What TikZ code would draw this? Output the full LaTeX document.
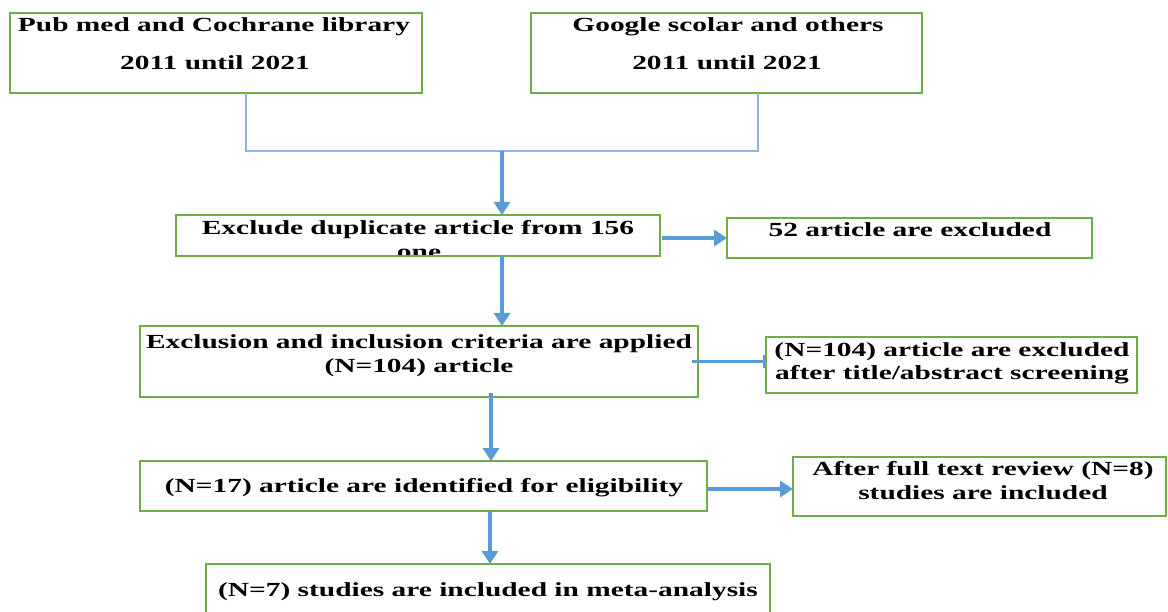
\documentclass[tikz,border=0pt]{standalone}
\usepackage{fontspec}
\setmainfont{Liberation Serif}[FakeStretch=1.47]
\usetikzlibrary{arrows.meta}
\definecolor{boxgreen}{HTML}{70AD47}
\definecolor{arrblue}{HTML}{5B9BD5}
\definecolor{linkblue}{HTML}{8EB4E3}
\begin{document}
\begin{tikzpicture}[x=1pt,y=-1pt,
 box/.style={draw=boxgreen, line width=2.3pt, rectangle, inner sep=0pt, outer sep=0pt},
 txt/.style={anchor=base, inner sep=0pt, font=\fontsize{20}{24}\selectfont\bfseries},
 arr/.style={draw=arrblue, line width=3.2pt, -{Triangle[length=13pt,width=16pt]}},
 barr/.style={draw=arrblue, line width=3.2pt, -{Bar[width=13pt,line width=2.6pt]}},
 link/.style={draw=linkblue, line width=1.4pt}]
\useasboundingbox (0,0) rectangle (1168,612);
\clip (0,0) rectangle (1168,612);

% texts
\node[txt] (pubt1) at (214,32) {Pub med and Cochrane library};
\node[txt] (pubt2) at (215,70) {2011 until 2021};
\node[txt] (goot1) at (728,32) {Google scolar and others};
\node[txt] (goot2) at (727,70) {2011 until 2021};
\node[txt] (exct1) at (418,235) {Exclude duplicate article from 156};
\begin{scope}
\clip (176,215) rectangle (660,255);
\node[txt] (exct2) at (419,259) {one};
\end{scope}
\node[txt] (ex52t) at (910,237) {52 article are excluded};
\node[txt] (critt1) at (419,349) {Exclusion and inclusion criteria are applied};
\node[txt] (critt2) at (419,373) {(N=104) article};
\node[txt] (n104t1) at (952,357) {(N=104) article are excluded};
\node[txt] (n104t2) at (952,380) {after title/abstract screening};
\node[txt] (n17t) at (424,492) {(N=17) article are identified for eligibility};
\node[txt] (fullt1) at (983,475) {After full text review (N=8)};
\node[txt] (fullt2) at (983,499) {studies are included};
\node[txt] (n7t) at (488,596) {(N=7) studies are included in meta-analysis};

% boxes
\node[box, minimum width=412pt, minimum height=80pt] (pub) at (216,53) {};
\node[box, minimum width=391pt, minimum height=80pt] (goo) at (726.5,53) {};
\node[box, minimum width=484pt, minimum height=41pt] (exc) at (418,235.5) {};
\node[box, minimum width=365pt, minimum height=40pt] (ex52) at (909.5,238) {};
\node[box, minimum width=558pt, minimum height=71pt] (crit) at (419,361.5) {};
\node[box, minimum width=371pt, minimum height=56pt] (n104) at (951.5,365) {};
\node[box, minimum width=567pt, minimum height=50pt] (n17) at (423.5,486) {};
\node[box, minimum width=373pt, minimum height=59pt] (full) at (979.5,486.5) {};
\node[box, minimum width=564pt, minimum height=72pt] (n7) at (488,600) {};

% connectors
\coordinate (jl) at (246,151);
\coordinate (jr) at (758,151);
\coordinate (j) at (502,151);
\coordinate (xa) at (491,0);
\coordinate (xb) at (490,0);
\draw[link] (pub.south -| jl) -- (jl) -- (jr) -- (goo.south -| jr);
\draw[arr] (j) -- (exc.north -| j);
\draw[arr] ([xshift=2pt]exc.east |- ex52.west) -- (ex52.west);
\draw[arr] (exc.south -| j) -- (crit.north -| j);
\draw[barr] ([xshift=-6pt]crit.east) -- (n104.west |- crit.east);
\draw[arr] ([yshift=4pt]crit.south -| xa) -- (n17.north -| xa);
\draw[arr] ([yshift=-3pt]n17.east) -- ([yshift=-3pt]n17.east -| full.west);
\draw[arr] (n17.south -| xb) -- (n7.north -| xb);
\end{tikzpicture}
\end{document}
